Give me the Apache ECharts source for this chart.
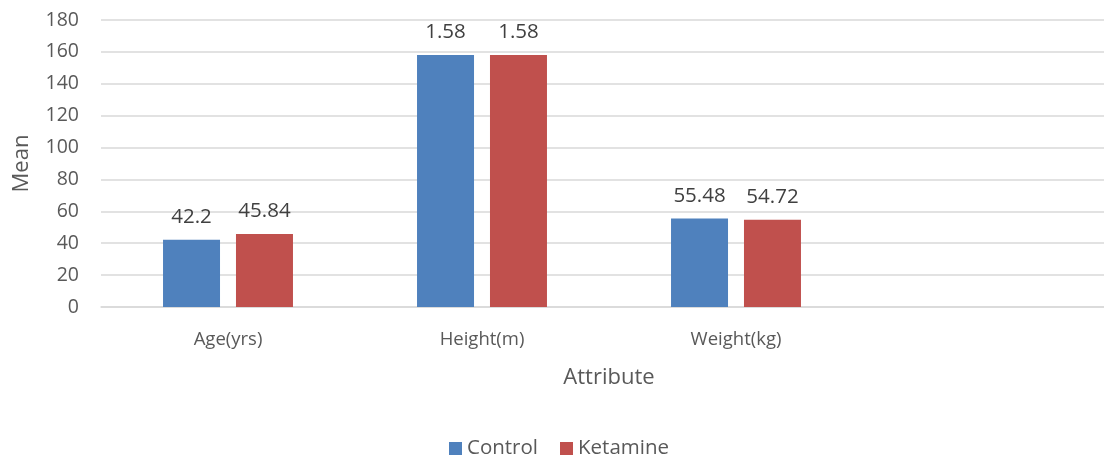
<!DOCTYPE html>
<html>
<head>
<meta charset="utf-8">
<script src="https://cdn.jsdelivr.net/npm/echarts@6/dist/echarts.min.js"></script>
<style>
  html, body { margin: 0; padding: 0; background: #fff; }
  #chart { width: 1104px; height: 457px; }
</style>
</head>
<body>
<div id="chart"></div>
<script>
// Group means per attribute; the trailing empty slot keeps Excel-style spacing.
const categories = ['Age(yrs)', 'Height(m)', 'Weight(kg)', ''];
const seriesNames = ['Control', 'Ketamine'];
// Means as reported in each attribute's own unit
const controlMeans = [42.2, 1.58, 55.48];
const ketamineMeans = [45.84, 1.58, 54.72];
// Height is plotted in centimetres on the shared axis
const plotScale = [1, 100, 1];
const yTicks = [0, 20, 40, 60, 80, 100, 120, 140, 160, 180];

const colors = ['#4F81BD', '#C0504D'];
const font = '"Open Sans", sans-serif';

function toSeriesData(means) {
  return means.map((v, i) => ({ value: v * plotScale[i], stated: v }));
}

const chart = echarts.init(document.getElementById('chart'), null, { renderer: 'canvas' });

const makeSeries = (name, means, color) => ({
  name: name,
  type: 'bar',
  data: toSeriesData(means),
  barWidth: 57,
  barGap: '28%',
  itemStyle: { color: color },
  label: {
    show: true,
    position: 'top',
    distance: 12,
    fontFamily: font,
    fontSize: 20.5,
    color: '#404040',
    formatter: p => String(p.data.stated)
  }
});

chart.setOption({
  animation: false,
  color: colors,
  // plot area runs past the right edge of the canvas, as in the exported figure
  grid: {
    left: 101, width: 1016, top: 20, bottom: 150,
    containLabel: false,
    outerBoundsMode: 'none'
  },
  xAxis: {
    type: 'category',
    data: categories,
    name: 'Attribute',
    nameLocation: 'middle',
    nameGap: 60,
    nameTextStyle: { fontFamily: font, fontSize: 22, color: '#595959' },
    axisLine: { lineStyle: { color: '#d9d9d9', width: 1.5 } },
    axisTick: { show: false },
    axisLabel: { fontFamily: font, fontSize: 18.5, color: '#595959', margin: 23 }
  },
  yAxis: {
    type: 'value',
    min: yTicks[0],
    max: yTicks[yTicks.length - 1],
    interval: yTicks[1] - yTicks[0],
    name: 'Mean',
    nameLocation: 'middle',
    nameGap: 68,
    nameTextStyle: { fontFamily: font, fontSize: 22, color: '#595959' },
    axisLine: { show: false },
    axisTick: { show: false },
    splitLine: { lineStyle: { color: '#d9d9d9', width: 1.5 } },
    axisLabel: { fontFamily: font, fontSize: 19.5, color: '#595959', margin: 22 }
  },
  legend: {
    data: seriesNames,
    top: 438,
    left: 449,
    padding: 0,
    itemWidth: 13,
    itemHeight: 13,
    itemGap: 22,
    icon: 'rect',
    textStyle: { fontFamily: font, fontSize: 20.5, color: '#595959' }
  },
  series: [
    makeSeries(seriesNames[0], controlMeans, colors[0]),
    makeSeries(seriesNames[1], ketamineMeans, colors[1])
  ]
});
</script>
</body>
</html>
